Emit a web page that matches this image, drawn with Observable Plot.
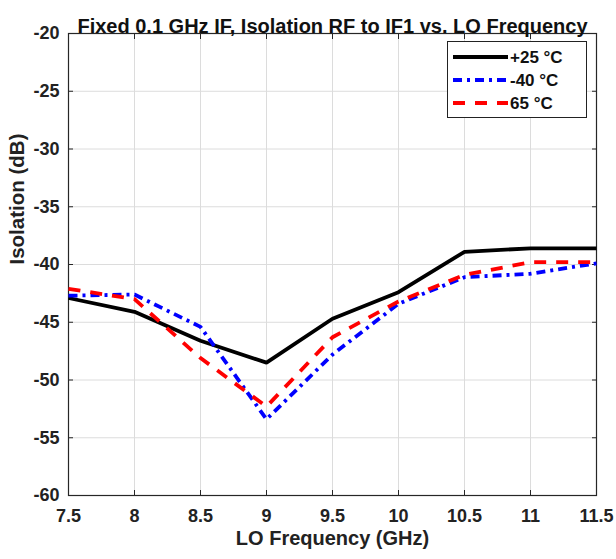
<!DOCTYPE html>
<html><head><meta charset="utf-8">
<script src="https://cdn.jsdelivr.net/npm/d3@7"></script>
<script src="https://cdn.jsdelivr.net/npm/@observablehq/plot@0.6"></script>
<style>
body{margin:0;background:#fff;font-family:"Liberation Sans",Arial,sans-serif;}
#wrap{position:relative;width:616px;height:559px;}
#legend{position:absolute;left:447px;top:41px;width:140px;height:77px;background:#fff;border:1px solid #222;box-sizing:border-box;}
</style></head>
<body><div id="wrap"><div id="chart"></div><div id="legend"></div></div>
<script>
const freq = [7.5, 8, 8.5, 9, 9.5, 10, 10.5, 11, 11.5];
const seriesNames = ["+25 \u00B0C", "-40 \u00B0C", "65 \u00B0C"];
const iso25 = [-42.9, -44.1, -46.6, -48.5, -44.7, -42.4, -38.9, -38.6, -38.6];
const isoM40 = [-42.7, -42.6, -45.4, -53.4, -47.8, -43.4, -41.1, -40.8, -39.9];
const iso65 = [-42.1, -43.0, -48.1, -52.3, -46.3, -43.2, -40.9, -39.8, -39.8];
const xTicks = [7.5, 8, 8.5, 9, 9.5, 10, 10.5, 11, 11.5];
const yTicks = [-60, -55, -50, -45, -40, -35, -30, -25, -20];
const title = "Fixed 0.1 GHz IF, Isolation RF to IF1 vs. LO Frequency";

const colors = ["#000000", "#0000ff", "#ff0000"];
const dashes = [null, "9,5,3,5", "12,10"];
const seriesVals = [iso25, isoM40, iso65];
const rows = [];
seriesVals.forEach((vals, si) => vals.forEach((v, i) => rows.push({s: seriesNames[si], x: freq[i], y: v})));

const none = () => "";
const marks = [
  Plot.gridX(xTicks, {stroke: "#dcdcdc", strokeOpacity: 1}),
  Plot.gridY(yTicks, {stroke: "#dcdcdc", strokeOpacity: 1}),
  // inward ticks on all four sides
  Plot.axisX(xTicks, {anchor: "bottom", tickSize: 5, dy: -5, tickFormat: none, label: null, stroke: "#262626"}),
  Plot.axisX(xTicks, {anchor: "top", tickSize: 5, dy: 5, tickFormat: none, label: null, stroke: "#262626"}),
  Plot.axisY(yTicks, {anchor: "left", tickSize: 5, dx: 5, tickFormat: none, label: null, stroke: "#262626"}),
  Plot.axisY(yTicks, {anchor: "right", tickSize: 5, dx: -5, tickFormat: none, label: null, stroke: "#262626"}),
  // tick labels
  Plot.axisX(xTicks, {anchor: "bottom", tickSize: 0, tickPadding: 14, tickFormat: d => String(d), fontSize: 18, fontWeight: "bold", fill: "#222", label: null}),
  Plot.axisY(yTicks, {anchor: "left", tickSize: 0, tickPadding: 9, tickFormat: d => String(d), fontSize: 18, fontWeight: "bold", fill: "#222", label: null}),
  Plot.frame({stroke: "#262626", strokeWidth: 1.2}),
];
seriesNames.forEach((name, si) => {
  marks.push(Plot.line(rows.filter(r => r.s === name), {x: "x", y: "y", stroke: colors[si], strokeWidth: 3.8, strokeDasharray: dashes[si], strokeLinejoin: "miter", strokeLinecap: "butt"}));
});
marks.push(Plot.text([title], {frameAnchor: "top", dy: -15, fontSize: 20, fontWeight: "bold", fill: "#111"}));
marks.push(Plot.text(["LO Frequency (GHz)"], {frameAnchor: "bottom", dy: 49, fontSize: 20, fontWeight: "bold", fill: "#222"}));
marks.push(Plot.text(["Isolation (dB)"], {frameAnchor: "left", dx: -51, rotate: -90, fontSize: 20.5, fontWeight: "bold", fill: "#222"}));

const chart = Plot.plot({
  width: 616, height: 559,
  marginLeft: 68, marginRight: 20, marginTop: 33, marginBottom: 64,
  style: {fontFamily: "'Liberation Sans', Arial, sans-serif", background: "#fff", overflow: "visible"},
  x: {domain: [7.5, 11.5]},
  y: {domain: [-60, -20]},
  marks
});
document.getElementById("chart").appendChild(chart);

// legend
const lg = d3.select("#legend").append("svg").attr("width", 140).attr("height", 77)
  .style("font-family", "'Liberation Sans', Arial, sans-serif");
seriesNames.forEach((name, si) => {
  const y = 15 + si * 23;
  lg.append("line").attr("x1", 5).attr("x2", 60).attr("y1", y).attr("y2", y)
    .attr("stroke", colors[si]).attr("stroke-width", 3.8).attr("stroke-dasharray", dashes[si]);
  lg.append("text").attr("x", 62).attr("y", y + 6).attr("font-size", 17).attr("font-weight", "bold")
    .attr("fill", "#111").text(name);
});
</script></body></html>
